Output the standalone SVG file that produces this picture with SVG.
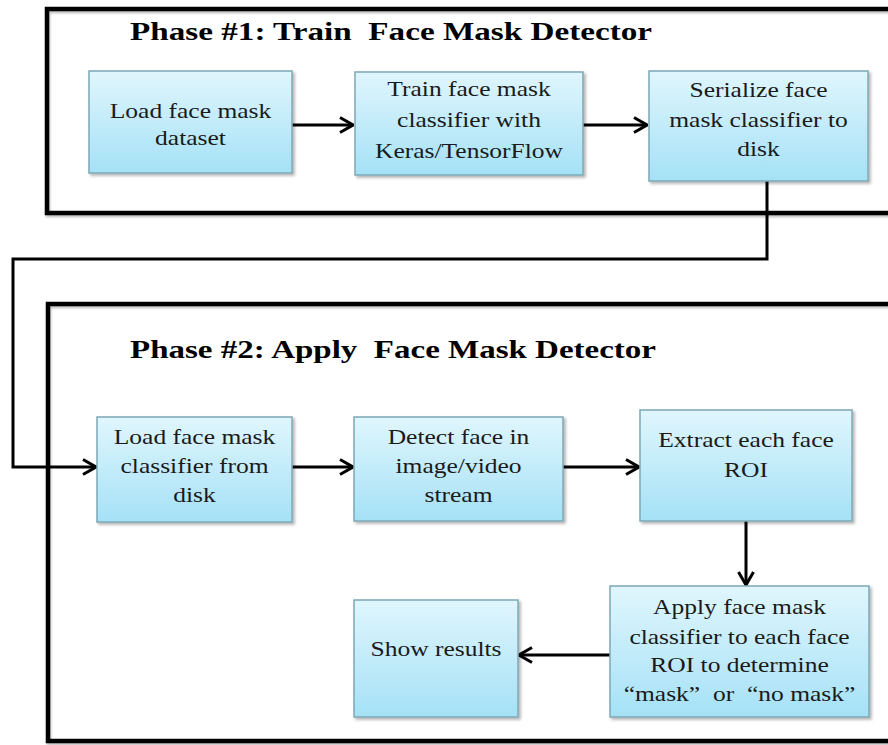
<svg xmlns="http://www.w3.org/2000/svg" width="888" height="745" viewBox="0 0 888 745">
<style>
.frame{fill:none;stroke:#000;stroke-width:4.5}
.box{fill:url(#boxg);stroke:#7ea8b6;stroke-width:1.5;filter:url(#sh)}
.t{font-family:"Liberation Serif","Times New Roman",serif;font-size:22px;fill:#1a1a1a;text-anchor:middle}
.title{font-family:"Liberation Serif","Times New Roman",serif;font-size:26px;font-weight:bold;fill:#000}
.c{fill:none;stroke:#000;stroke-width:3}
</style>
<defs>
<linearGradient id="boxg" x1="0" y1="0" x2="0" y2="1">
<stop offset="0" stop-color="#e0f6fd"/>
<stop offset="1" stop-color="#a5e1f6"/>
</linearGradient>
<filter id="sh" x="-10%" y="-10%" width="130%" height="130%">
<feDropShadow dx="2" dy="2" stdDeviation="1.5" flood-color="#000" flood-opacity="0.3"/>
</filter>
<filter id="fsh" x="-5%" y="-5%" width="110%" height="110%">
<feDropShadow dx="1" dy="2" stdDeviation="1" flood-color="#000" flood-opacity="0.25"/>
</filter>
<marker id="ah" viewBox="0 0 16 18" refX="15" refY="9" markerWidth="16" markerHeight="18" markerUnits="userSpaceOnUse" orient="auto">
<path d="M2,1.5 L15,9 L2,16.5" fill="none" stroke="#000" stroke-width="3"/>
</marker>
</defs>
<rect width="888" height="745" fill="#fff"/>

<g id="phase1">
<rect class="frame" x="47" y="9" width="900" height="204" filter="url(#fsh)"/>
<text class="title" x="130" y="40" textLength="522" lengthAdjust="spacingAndGlyphs" xml:space="preserve">Phase #1: Train  Face Mask Detector</text>
</g>
<g id="phase2">
<rect class="frame" x="48" y="304" width="900" height="437" filter="url(#fsh)"/>
<text class="title" x="130" y="358" textLength="526" lengthAdjust="spacingAndGlyphs" xml:space="preserve">Phase #2: Apply  Face Mask Detector</text>
</g>

<g id="connectors">
<path class="c" d="M292,125 L353,125" marker-end="url(#ah)"/>
<path class="c" d="M583,125 L647,125" marker-end="url(#ah)"/>
<path class="c" d="M767,181 L767,259 L13,259 L13,467 L96,467" marker-end="url(#ah)"/>
<path class="c" d="M292,467 L353,467" marker-end="url(#ah)"/>
<path class="c" d="M563,467 L639,467" marker-end="url(#ah)"/>
<path class="c" d="M746,521 L746,585" marker-end="url(#ah)"/>
<path class="c" d="M610,655 L519,655" marker-end="url(#ah)"/>
</g>

<g id="n1">
<rect class="box" x="89" y="71" width="203" height="102"/>
<g transform="translate(190.5,0) scale(1.16,1)"><text class="t" x="0" y="118">Load face mask</text><text class="t" x="0" y="145">dataset</text></g>
</g>
<g id="n2">
<rect class="box" x="355" y="72" width="228" height="103"/>
<g transform="translate(469,0) scale(1.16,1)"><text class="t" x="0" y="96">Train face mask</text><text class="t" x="0" y="127">classifier with</text><text class="t" x="0" y="158">Keras/TensorFlow</text></g>
</g>
<g id="n3">
<rect class="box" x="649" y="71" width="219" height="110"/>
<g transform="translate(758.5,0) scale(1.16,1)"><text class="t" x="0" y="97">Serialize face</text><text class="t" x="0" y="127">mask classifier to</text><text class="t" x="0" y="156">disk</text></g>
</g>
<g id="n4">
<rect class="box" x="97" y="417" width="195" height="105"/>
<g transform="translate(194.5,0) scale(1.16,1)"><text class="t" x="0" y="444">Load face mask</text><text class="t" x="0" y="473">classifier from</text><text class="t" x="0" y="502">disk</text></g>
</g>
<g id="n5">
<rect class="box" x="354" y="417" width="209" height="104"/>
<g transform="translate(458.5,0) scale(1.16,1)"><text class="t" x="0" y="444">Detect face in</text><text class="t" x="0" y="473">image/video</text><text class="t" x="0" y="502">stream</text></g>
</g>
<g id="n6">
<rect class="box" x="640" y="410" width="212" height="111"/>
<g transform="translate(746,0) scale(1.16,1)"><text class="t" x="0" y="447">Extract each face</text><text class="t" x="0" y="477">ROI</text></g>
</g>
<g id="n7">
<rect class="box" x="610" y="586" width="259" height="131"/>
<g transform="translate(739.5,0) scale(1.16,1)"><text class="t" x="0" y="614">Apply face mask</text><text class="t" x="0" y="644">classifier to each face</text><text class="t" x="0" y="672">ROI to determine</text><text class="t" x="0" y="701" xml:space="preserve">“mask”  or  “no mask”</text></g>
</g>
<g id="n8">
<rect class="box" x="354" y="600" width="164" height="117"/>
<g transform="translate(436,0) scale(1.16,1)"><text class="t" x="0" y="656">Show results</text></g>
</g>
</svg>
